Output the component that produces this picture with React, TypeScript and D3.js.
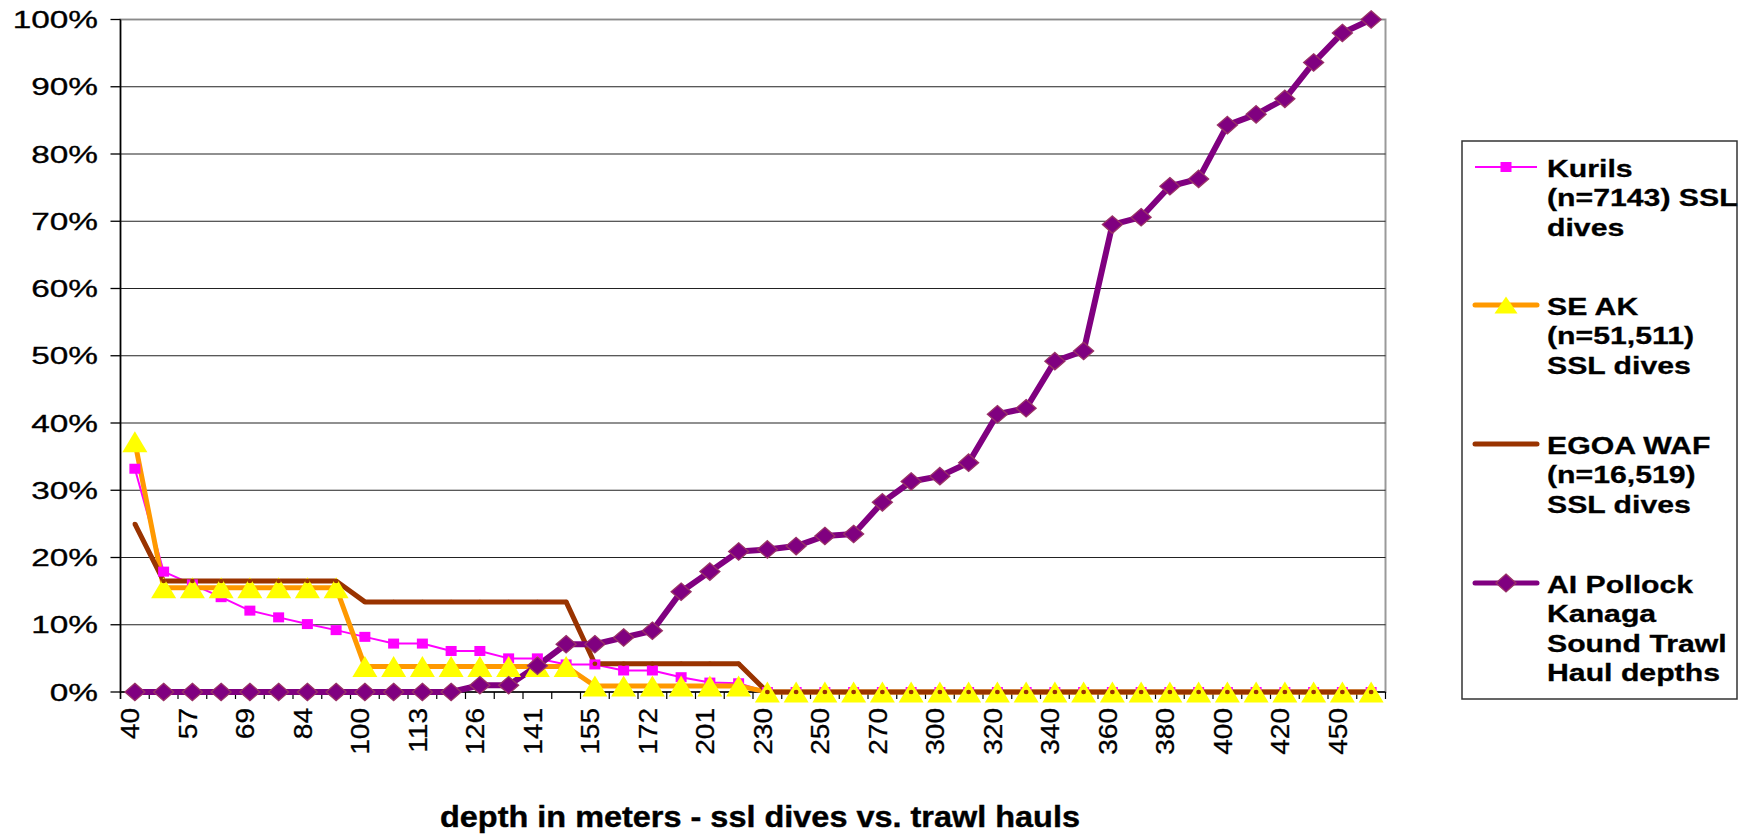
import React from "react";
import * as d3 from "d3";

const categories = [
  "40", "50", "57", "63", "69", "76", "84", "92", "100", "106", "113", "120",
  "126", "133", "141", "148", "155", "163", "172", "186", "201", "215", "230", "240",
  "250", "260", "270", "280", "300", "310", "320", "330", "340", "350", "360", "370",
  "380", "390", "400", "410", "420", "435", "450", "460",
];

// values in percent
const kurils = [
  33.2, 17.9, 16.0, 14.1, 12.1, 11.1, 10.1, 9.2, 8.2, 7.2, 7.2, 6.1,
  6.1, 5.0, 5.0, 4.1, 4.1, 3.2, 3.2, 2.2, 1.4, 1.3, 0, 0,
  0, 0, 0, 0, 0, 0, 0, 0, 0, 0, 0, 0,
  0, 0, 0, 0, 0, 0, 0, 0,
];
const seAK = [
  37.2, 15.5, 15.5, 15.5, 15.5, 15.5, 15.5, 15.5, 3.8, 3.8, 3.8, 3.8,
  3.8, 3.8, 3.8, 3.8, 0.9, 0.9, 0.9, 0.9, 0.9, 0.9, 0, 0,
  0, 0, 0, 0, 0, 0, 0, 0, 0, 0, 0, 0,
  0, 0, 0, 0, 0, 0, 0, 0,
];
const egoa = [
  25.0, 16.5, 16.5, 16.5, 16.5, 16.5, 16.5, 16.5, 13.4, 13.4, 13.4, 13.4,
  13.4, 13.4, 13.4, 13.4, 4.2, 4.2, 4.2, 4.2, 4.2, 4.2, 0, 0,
  0, 0, 0, 0, 0, 0, 0, 0, 0, 0, 0, 0,
  0, 0, 0, 0, 0, 0, 0, 0,
];
const pollock = [
  0, 0, 0, 0, 0, 0, 0, 0, 0, 0, 0, 0,
  1.0, 1.0, 3.9, 7.1, 7.1, 8.1, 9.1, 14.9, 17.9, 20.9, 21.2, 21.7,
  23.2, 23.5, 28.2, 31.3, 32.1, 34.1, 41.3, 42.2, 49.2, 50.7, 69.5, 70.6,
  75.2, 76.3, 84.3, 85.9, 88.2, 93.6, 98.0, 100,
];

const yTicks = [0, 10, 20, 30, 40, 50, 60, 70, 80, 90, 100];

const legendItems = [
  { key: "kurils", lines: ["Kurils", "(n=7143) SSL", "dives"] },
  { key: "seak", lines: ["SE AK", "(n=51,511)", "SSL dives"] },
  { key: "egoa", lines: ["EGOA WAF", "(n=16,519)", "SSL dives"] },
  { key: "pollock", lines: ["AI Pollock", "Kanaga", "Sound Trawl", "Haul depths"] },
];

const FONT = "'Liberation Sans', Arial, Helvetica, sans-serif";
const C_KUR = "#FF00FF";
const C_SEAK = "#FF9900";
const C_TRI = "#FFFF00";
const C_EGOA = "#993300";
const C_POL = "#800080";
const C_POL_EDGE = "#993366";

const tri = (px: number, py: number, w = 25, h = 21) =>
  `M${px},${py - h / 2}L${px + w / 2},${py + h / 2}L${px - w / 2},${py + h / 2}Z`;
const dia = (px: number, py: number, hw = 10, hh = 8.7) =>
  `M${px},${py - hh}L${px + hw},${py}L${px},${py + hh}L${px - hw},${py}Z`;

export default function App() {
  const W = 1750;
  const H = 834;
  const x0 = 120.5;
  const x1 = 1385.5;
  const yBot = 692;
  const yTop = 19.5;

  const x = d3.scaleBand<string>().domain(categories).range([x0, x1]).padding(0);
  const y = d3.scaleLinear().domain([0, 100]).range([yBot, yTop]);
  const bw = x.bandwidth();
  const cx = (i: number) => (x(categories[i]) as number) + bw / 2;

  const line = d3
    .line<number>()
    .x((_, i) => cx(i))
    .y((d) => y(d));

  const boundaries = categories.map((c) => x(c) as number).concat([x1]);

  // legend geometry
  const legX = 1462;
  const legY = 141;
  const legW = 275;
  const legH = 558;
  const legMarkerY = [167, 305, 444, 583];
  const lx0 = 1475;
  const lx1 = 1537;
  const lmx = 1506;
  const ltx = 1547;

  return (
    <div style={{ position: "absolute", left: 0, top: 0, width: W, height: H, background: "#fff" }}>
      <svg width={W} height={H} style={{ display: "block" }}>
        <rect x={0} y={0} width={W} height={H} fill="#fff" />

        {/* plot area border */}
        <rect x={x0} y={yTop} width={x1 - x0} height={yBot - yTop} fill="none" stroke="#9a9a9a" strokeWidth={2} />

        {/* gridlines */}
        {yTicks.filter((t) => t > 0).map((t) => (
          <line key={"g" + t} x1={x0} x2={x1} y1={y(t)} y2={y(t)} stroke={t === 100 ? "#8a8a8a" : "#222"} strokeWidth={1.2} />
        ))}

        {/* y axis */}
        <line x1={x0} x2={x0} y1={yTop} y2={yBot + 7} stroke="#000" strokeWidth={1.5} />
        {yTicks.map((t) => (
          <g key={"yt" + t}>
            <line x1={x0 - 10} x2={x0} y1={y(t)} y2={y(t)} stroke="#000" strokeWidth={1.3} />
            <text
              transform={`translate(98,${y(t) + 8.5}) scale(1.42,1)`}
              textAnchor="end"
              fontFamily={FONT}
              fontSize={23.5}
              fill="#000"
              stroke="#000"
              strokeWidth={0.3}
            >
              {`${t}%`}
            </text>
          </g>
        ))}

        {/* x axis */}
        <line x1={x0} x2={x1} y1={yBot} y2={yBot} stroke="#000" strokeWidth={1.5} />
        {boundaries.map((b, i) => (
          <line key={"xt" + i} x1={b} x2={b} y1={yBot} y2={yBot + 7} stroke="#000" strokeWidth={1.2} />
        ))}
        {categories.map((c, i) =>
          i % 2 === 0 ? (
            <text
              key={"xl" + i}
              transform={`translate(${cx(i) + 4.5},708) rotate(-90) scale(1.08,1)`}
              textAnchor="end"
              fontFamily={FONT}
              fontSize={26}
              fill="#000"
              stroke="#000"
              strokeWidth={0.3}
            >
              {c}
            </text>
          ) : null
        )}

        {/* lines */}
        <path d={line(kurils) || ""} fill="none" stroke={C_KUR} strokeWidth={2} strokeLinejoin="round" />
        <path d={line(seAK) || ""} fill="none" stroke={C_SEAK} strokeWidth={5} strokeLinejoin="round" />
        <path d={line(egoa) || ""} fill="none" stroke={C_EGOA} strokeWidth={5} strokeLinejoin="round" />
        <path d={line(pollock) || ""} fill="none" stroke={C_POL} strokeWidth={6} strokeLinejoin="round" />

        {/* markers */}
        {kurils.map((v, i) => (
          <rect key={"km" + i} x={cx(i) - 5.5} y={y(v) - 5} width={11} height={10} fill={C_KUR} />
        ))}
        {seAK.map((v, i) => (
          <path key={"sm" + i} d={tri(cx(i), y(v))} fill={C_TRI} />
        ))}
        {egoa.map((v, i) => (
          <ellipse key={"em" + i} cx={cx(i)} cy={y(v)} rx={2.4} ry={2.2} fill={C_EGOA} />
        ))}
        {pollock.map((v, i) => (
          <path key={"pm" + i} d={dia(cx(i), y(v))} fill={C_POL} stroke={C_POL_EDGE} strokeWidth={1.3} />
        ))}

        {/* axis title */}
        <text
          x={760}
          y={827}
          textAnchor="middle"
          fontFamily={FONT}
          fontWeight="bold"
          fontSize={29}
          textLength={640}
          lengthAdjust="spacingAndGlyphs"
          fill="#000"
          stroke="#000"
          strokeWidth={0.4}
        >
          depth in meters - ssl dives vs. trawl hauls
        </text>

        {/* legend */}
        <rect x={legX} y={legY} width={legW} height={legH} fill="#fff" stroke="#333" strokeWidth={1.5} />
        {legendItems.map((item, k) => {
          const my = legMarkerY[k];
          return (
            <g key={item.key}>
              {item.key === "kurils" && (
                <>
                  <line x1={lx0} x2={lx1} y1={my} y2={my} stroke={C_KUR} strokeWidth={2} />
                  <rect x={lmx - 5.5} y={my - 5} width={11} height={10} fill={C_KUR} />
                </>
              )}
              {item.key === "seak" && (
                <>
                  <line x1={lx0} x2={lx1} y1={my} y2={my} stroke={C_SEAK} strokeWidth={5} strokeLinecap="round" />
                  <path d={tri(lmx, my, 23, 17)} fill={C_TRI} />
                </>
              )}
              {item.key === "egoa" && (
                <>
                  <line x1={lx0} x2={lx1} y1={my} y2={my} stroke={C_EGOA} strokeWidth={5} strokeLinecap="round" />
                  <ellipse cx={lmx} cy={my} rx={1.5} ry={1.5} fill={C_EGOA} />
                </>
              )}
              {item.key === "pollock" && (
                <>
                  <line x1={lx0} x2={lx1} y1={my} y2={my} stroke={C_POL} strokeWidth={5} strokeLinecap="round" />
                  <path d={dia(lmx, my, 10, 9)} fill={C_POL} stroke={C_POL_EDGE} strokeWidth={1.3} />
                </>
              )}
              {item.lines.map((ln, j) => (
                <text
                  key={j}
                  transform={`translate(${ltx},${my + 9.5 + j * 29.6}) scale(1.26,1)`}
                  fontFamily={FONT}
                  fontWeight="bold"
                  fontSize={24}
                  fill="#000"
                  stroke="#000"
                  strokeWidth={0.3}
                >
                  {ln}
                </text>
              ))}
            </g>
          );
        })}
      </svg>
    </div>
  );
}
